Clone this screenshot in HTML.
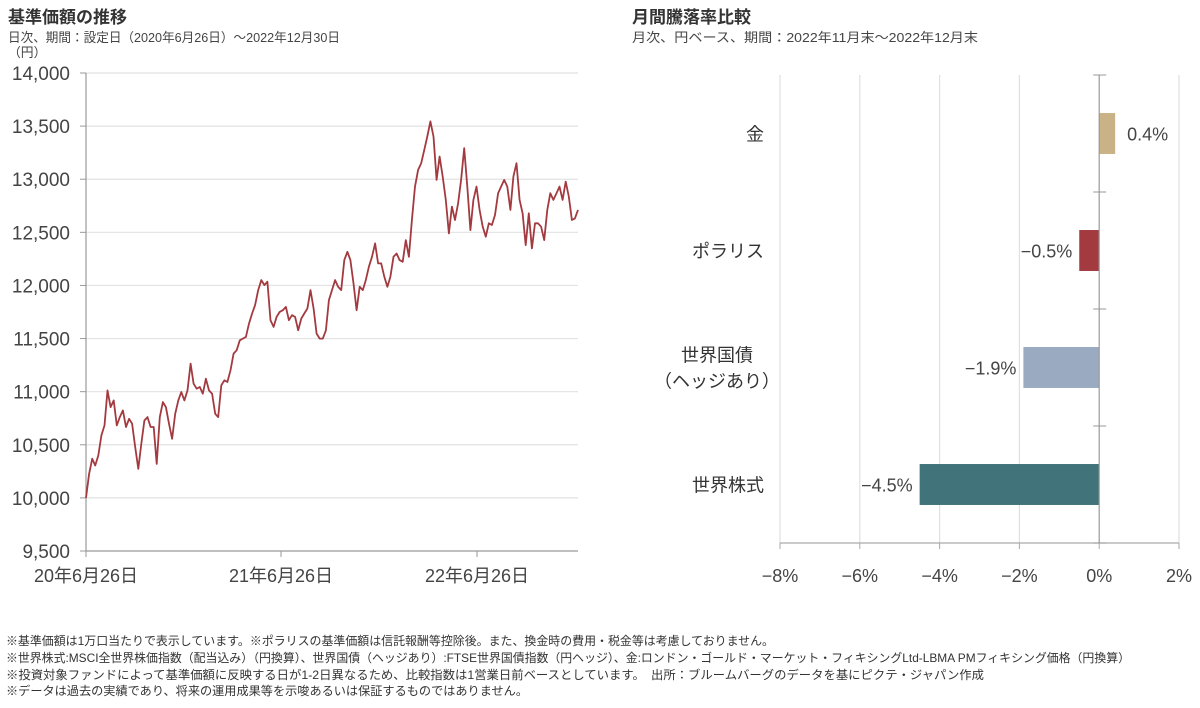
<!DOCTYPE html>
<html><head><meta charset="utf-8">
<style>
body{margin:0;background:#fff;font-family:"Liberation Sans","Noto Sans CJK JP",sans-serif;}
svg text{font-family:"Liberation Sans","Noto Sans CJK JP",sans-serif;}
</style></head>
<body>
<svg id="c" width="1200" height="703" viewBox="0 0 1200 703" xmlns="http://www.w3.org/2000/svg">
<text x="8" y="23" font-size="17" font-weight="bold" fill="#333">基準価額の推移</text>
<text x="8" y="42" font-size="12.8" fill="#444" textLength="332" lengthAdjust="spacingAndGlyphs">日次、期間：設定日（2020年6月26日）～2022年12月30日</text>
<text x="8" y="57" font-size="12.8" fill="#444">（円）</text>
<text x="632" y="23" font-size="17" font-weight="bold" fill="#333">月間騰落率比較</text>
<text x="632" y="42" font-size="12.8" fill="#444" textLength="346" lengthAdjust="spacingAndGlyphs">月次、円ベース、期間：2022年11月末～2022年12月末</text>
<g id="left"></g>
<g id="right"></g>
<g font-size="12" fill="#333">
<text x="6" y="645" textLength="768" lengthAdjust="spacingAndGlyphs">※基準価額は1万口当たりで表示しています。※ポラリスの基準価額は信託報酬等控除後。また、換金時の費用・税金等は考慮しておりません。</text>
<text x="6" y="662" textLength="1124" lengthAdjust="spacingAndGlyphs">※世界株式:MSCI全世界株価指数（配当込み）（円換算）、世界国債（ヘッジあり）:FTSE世界国債指数（円ヘッジ）、金:ロンドン・ゴールド・マーケット・フィキシングLtd-LBMA PMフィキシング価格（円換算）</text>
<text x="6" y="679" textLength="978" lengthAdjust="spacingAndGlyphs">※投資対象ファンドによって基準価額に反映する日が1-2日異なるため、比較指数は1営業日前ベースとしています。　出所：ブルームバーグのデータを基にピクテ・ジャパン作成</text>
<text x="6" y="695" textLength="522" lengthAdjust="spacingAndGlyphs">※データは過去の実績であり、将来の運用成果等を示唆あるいは保証するものではありません。</text>
</g>
</svg>
<script>
const navValues=[10000,10226,10368,10305,10399,10588,10682,11012,10855,10918,10682,10761,10824,10667,10745,10698,10478,10273,10509,10729,10761,10667,10667,10320,10761,10902,10855,10698,10556,10792,10918,10997,10918,11012,11264,11075,11028,11044,10981,11122,11012,10981,10792,10761,11060,11107,11091,11201,11358,11390,11484,11500,11516,11641,11736,11815,11956,12050,12003,12035,11673,11610,11704,11751,11767,11798,11673,11720,11704,11578,11689,11736,11783,11956,11783,11547,11500,11500,11578,11861,11956,12050,11987,11956,12239,12317,12239,12019,11767,11987,11956,12050,12176,12270,12396,12208,12208,12082,11987,12082,12270,12301,12239,12223,12427,12270,12616,12931,13088,13151,13277,13402,13544,13402,12994,13214,13025,12805,12490,12742,12616,12773,12994,13292,12931,12521,12805,12931,12711,12553,12459,12585,12569,12663,12868,12931,12994,12931,12711,13025,13151,12805,12679,12380,12679,12349,12585,12585,12553,12427,12711,12868,12805,12868,12931,12805,12978,12837,12616,12631,12711];
const yTicks=[9500,10000,10500,11000,11500,12000,12500,13000,13500,14000];
const xTickLabels=["20年6月26日","21年6月26日","22年6月26日"];
const categories=["金","ポラリス","世界国債|（ヘッジあり）","世界株式"];
const returns=[0.4,-0.5,-1.9,-4.5];
const barColors=["#c9b386","#a33a40","#9aaac0","#41737a"];
const xPctTicks=[-8,-6,-4,-2,0,2];
const NS="http://www.w3.org/2000/svg";
function mk(p,t,a,txt){const e=document.createElementNS(NS,t);for(const k in a)e.setAttribute(k,a[k]);if(txt!==undefined)e.textContent=txt;p.appendChild(e);return e;}
const L=document.getElementById('left');
const x0=86,x1=578,yTop=73,yBot=551;
const ys=v=>yBot-(v-9500)/(14000-9500)*(yBot-yTop);
const xs=i=>x0+i/(navValues.length-1)*(x1-x0);
yTicks.forEach(v=>{
 const g=mk(L,'line',{x1:x0,x2:x1,y1:ys(v),y2:ys(v),stroke:v===9500?'#999':'#e2e2e2','stroke-width':1.2});
 
 
 mk(L,'line',{x1:x0-6,x2:x0,y1:ys(v),y2:ys(v),stroke:'#999'});
 const t=mk(L,'text',{x:70,y:ys(v)+7,'text-anchor':'end','font-size':19,fill:'#444'},v.toLocaleString('en-US'));
 
 
});
mk(L,'line',{x1:x0,x2:x0,y1:yTop,y2:yBot,stroke:'#999','stroke-width':1.2});
const tickOff=[0,195,391];
xTickLabels.forEach((s,i)=>{
 mk(L,'line',{x1:x0+tickOff[i],x2:x0+tickOff[i],y1:yBot,y2:yBot+6,stroke:'#999'});
 const t=mk(L,'text',{x:x0+tickOff[i],y:582,'text-anchor':'middle','font-size':18,fill:'#444'},s);
 
 
});
const line=mk(L,'polyline',{points:navValues.map((v,i)=>xs(i).toFixed(1)+','+ys(v).toFixed(1)).join(' '),fill:'none',stroke:'#a33a40','stroke-width':1.8,'stroke-linejoin':'round'});


const R=document.getElementById('right');
const rx0=780,rx1=1179,rTop=75,rBot=543;
const px=v=>rx0+(v+8)/10*(rx1-rx0);
const band=(rBot-rTop)/categories.length;
xPctTicks.forEach(v=>{
 if(v!==0){const g=mk(R,'line',{x1:px(v),x2:px(v),y1:rTop,y2:rBot,stroke:'#e0e0e0','stroke-width':1.2});
 
 }
 mk(R,'line',{x1:px(v),x2:px(v),y1:rBot,y2:rBot+6,stroke:'#aaa'});
 const t=mk(R,'text',{x:px(v),y:582,'text-anchor':'middle','font-size':18,fill:'#444'},(v<0?'−':'')+Math.abs(v)+'%');
 
 
});
mk(R,'line',{x1:rx0,x2:rx1,y1:rBot,y2:rBot,stroke:'#aaa','stroke-width':1.2});
categories.forEach((c,i)=>{
 const cy=rTop+band*(i+0.5);
 const h=band*0.35, v=returns[i];
 const b=mk(R,'rect',{x:Math.min(px(0),px(v)),y:cy-h/2,width:Math.abs(px(v)-px(0)),height:h,fill:barColors[i]});
 
 
 const lab=mk(R,'text',{x:v>=0?px(v)+12:px(v)-7,y:cy+7,'text-anchor':v>=0?'start':'end','font-size':18,fill:'#444'},(v<0?'−':'')+Math.abs(v).toFixed(1)+'%');
 
 
 const parts=c.split('|');
 parts.forEach((p,j)=>{
  const t=mk(R,'text',{x:parts.length>1?717:764,y:cy+7+(j-(parts.length-1)/2)*26,'text-anchor':parts.length>1?'middle':'end','font-size':18,fill:'#333'},p);
  
  
 });
});
mk(R,'line',{x1:px(0),x2:px(0),y1:rTop,y2:rBot,stroke:'#999','stroke-width':1.2});
for(let i=0;i<=categories.length;i++){mk(R,'line',{x1:px(0)-6,x2:px(0)+7,y1:rTop+band*i,y2:rTop+band*i,stroke:'#999'});}
</script>
</body></html>
